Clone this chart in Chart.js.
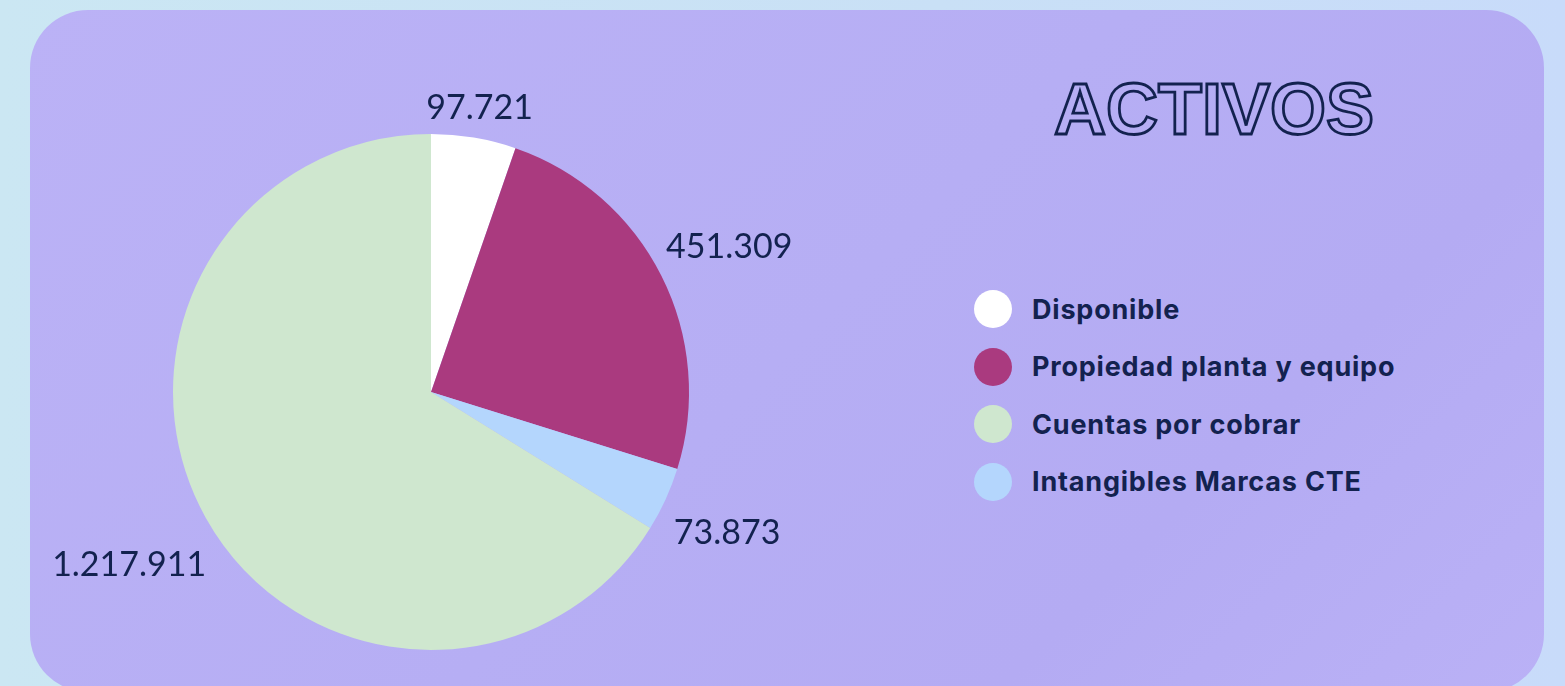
<!DOCTYPE html>
<html>
<head>
<meta charset="utf-8">
<script src="https://cdn.jsdelivr.net/npm/chart.js@4.4.1/dist/chart.umd.min.js"></script>
<style>
  html, body { margin: 0; padding: 0; }
  body {
    width: 1565px; height: 686px; overflow: hidden; position: relative;
    background: linear-gradient(90deg, #cbe7f3 0%, #c9e0f6 60%, #c8dbfa 100%);
  }
  .card {
    position: absolute; left: 30px; top: 10px; width: 1514px; height: 682px;
    border-radius: 58px;
    background: linear-gradient(135deg, #bbb2f6 0%, #b6aef4 50%, #b4abf3 75%, #bab1f6 100%);
  }
  #chartBox { position: absolute; left: 0; top: 0; width: 862px; height: 686px; }
  .title {
    position: absolute; left: 1014px; top: 73px; width: 400px; text-align: center;
    font-family: "Liberation Sans", Arial, sans-serif; font-weight: 700; font-size: 72px;
    line-height: 1; letter-spacing: 0px;
    color: transparent; -webkit-text-stroke: 2.8px #13224f;
  }
  #legend { position: absolute; left: 974px; top: 290px; }
  .legend-item { display: flex; align-items: center; height: 38px; margin-bottom: 19.5px; }
  .legend-dot { width: 38px; height: 38px; border-radius: 50%; margin-right: 20px; flex: none; }
  .legend-text {
    font-family: Inter, Lato, "Noto Sans", sans-serif; font-weight: 700; font-size: 27px;
    letter-spacing: 0.8px; color: #13224f; white-space: nowrap;
  }
</style>
</head>
<body>
<div class="card"></div>
<div class="title">ACTIVOS</div>
<div id="chartBox"><canvas id="pie"></canvas></div>
<div id="legend"></div>

<script>
// slices in drawing order (clockwise from 12 o'clock)
const categories = ["Disponible", "Propiedad planta y equipo", "Intangibles Marcas CTE", "Cuentas por cobrar"];
const values = [97721, 451309, 73873, 1217911];
const sliceColors = ["#ffffff", "#aa3a7f", "#b4d6fd", "#cfe7cf"];
// order the legend lists them in
const legendOrder = ["Disponible", "Propiedad planta y equipo", "Cuentas por cobrar", "Intangibles Marcas CTE"];

function formatNumber(n) {
    return String(n).replace(/\B(?=(\d{3})+(?!\d))/g, ".");
}

// value labels outside the slices
const outsideLabels = {
    id: "outsideLabels",
    afterDatasetsDraw(chart) {
        const ctx = chart.ctx;
        const meta = chart.getDatasetMeta(0);
        ctx.save();
        ctx.font = "400 34px Lato, 'Noto Sans', sans-serif";
        ctx.fillStyle = "#13224f";
        ctx.textAlign = "center";
        ctx.textBaseline = "alphabetic";
        const capH = 25;
        meta.data.forEach((arc, i) => {
            const p = arc.getProps(["x", "y", "startAngle", "endAngle", "outerRadius"], true);
            const mid = (p.startAngle + p.endAngle) / 2;
            const text = formatNumber(chart.data.datasets[0].data[i]);
            const hw = ctx.measureText(text).width / 2;
            const hh = capH / 2;
            const proj = hw * Math.abs(Math.cos(mid)) + hh * Math.abs(Math.sin(mid));
            const r = p.outerRadius + 14 + proj;
            const cx = p.x + Math.cos(mid) * r;
            const cy = p.y + Math.sin(mid) * r + 4;
            ctx.fillText(text, cx, cy + capH / 2);
        });
        ctx.restore();
    }
};

const chart = new Chart(document.getElementById("pie"), {
    type: "pie",
    data: {
        labels: categories,
        datasets: [{
            data: values,
            backgroundColor: sliceColors,
            borderWidth: 0,
            hoverOffset: 0
        }]
    },
    options: {
        responsive: true,
        maintainAspectRatio: false,
        animation: false,
        layout: { padding: { left: 173, right: 173, top: 134, bottom: 36 } },
        plugins: {
            legend: { display: false },
            tooltip: { enabled: false }
        }
    },
    plugins: [outsideLabels]
});

// html legend
const legend = document.getElementById("legend");
legendOrder.forEach(name => {
    const idx = categories.indexOf(name);
    const item = document.createElement("div");
    item.className = "legend-item";
    const dot = document.createElement("div");
    dot.className = "legend-dot";
    dot.style.backgroundColor = sliceColors[idx];
    const label = document.createElement("div");
    label.className = "legend-text";
    label.textContent = name;
    item.appendChild(dot);
    item.appendChild(label);
    legend.appendChild(item);
});
</script>
</body>
</html>
